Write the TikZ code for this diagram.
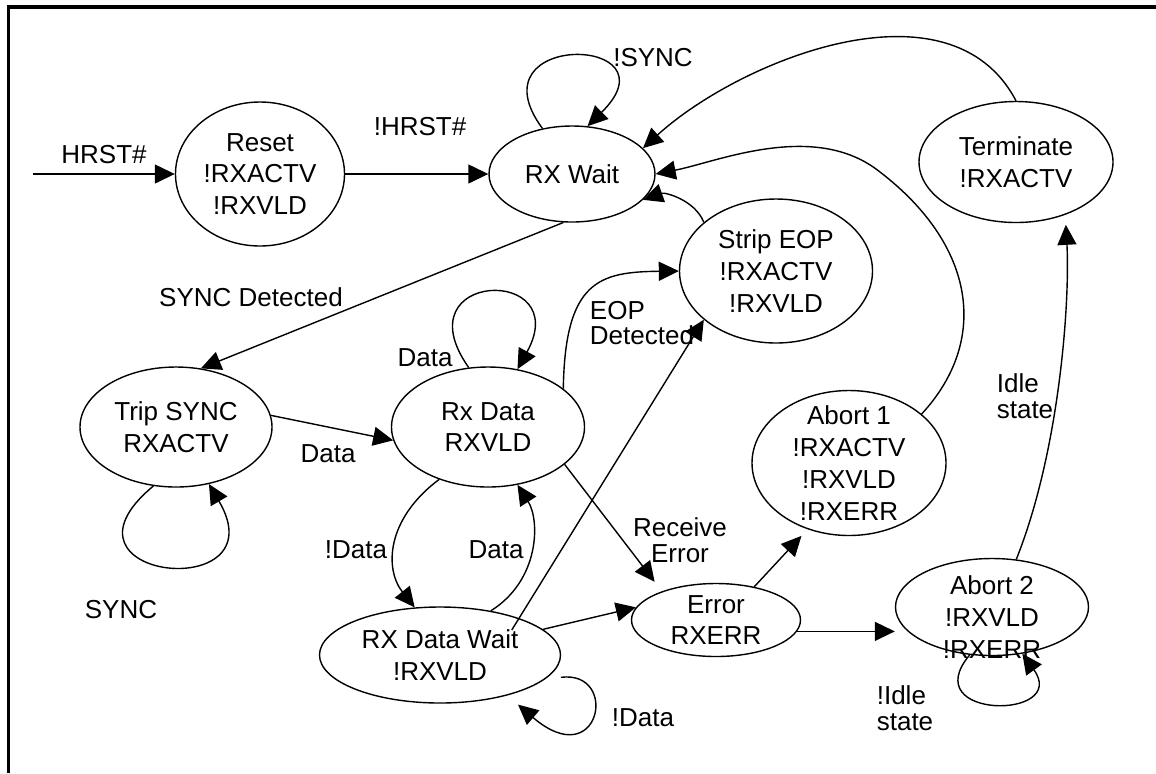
\documentclass[tikz,border=0pt]{standalone}
\usepackage{fontspec}
\setmainfont{Liberation Sans}
\usetikzlibrary{arrows.meta, shapes.geometric}

\begin{document}
\begin{tikzpicture}[x=0.5pt,y=-0.5pt,
		every node/.style={font=\fontsize{13pt}{15.9pt}\selectfont},
		state/.style={draw,ellipse,line width=0.7pt,align=center,inner xsep=0pt,inner ysep=-4pt},
		lbl/.style={align=left,inner sep=0pt,font=\fontsize{13pt}{12.75pt}\selectfont},
		tr/.style={line width=0.7pt,-{Triangle[length=10pt,width=9.5pt]}}]
	\useasboundingbox (0,0) rectangle (1156,773);
	\draw[line width=1.75pt] (8.5,773) -- (8.5,7) -- (1156,7);

	% states
	\node[state,minimum width=84.5pt,minimum height=72pt] (reset) at (260,174) {Reset\\!RXACTV\\!RXVLD};
	\node[state,minimum width=83pt,minimum height=48pt] (wait) at (572,174) {RX Wait};
	\node[state,minimum width=97pt,minimum height=60.5pt] (term) at (1016,162) {Terminate\\!RXACTV};
	\node[state,minimum width=96.5pt,minimum height=72pt] (strip) at (776,271) {Strip EOP\\!RXACTV\\!RXVLD};
	\node[state,minimum width=96pt,minimum height=60pt] (trip) at (176,427) {Trip SYNC\\RXACTV};
	\node[state,minimum width=96.5pt,minimum height=60pt] (rxdata) at (488,427) {Rx Data\\RXVLD};
	\node[state,minimum width=120.5pt,minimum height=48pt] (dwait) at (440,655) {RX Data Wait\\!RXVLD};
	\node[state,minimum width=84.5pt,minimum height=36.5pt] (err) at (716,620) {Error\\RXERR};
	\node[state,minimum width=97pt,minimum height=72.5pt] (ab1) at (849,463) {Abort 1\\!RXACTV\\!RXVLD\\!RXERR};
	\node[state,minimum width=96.5pt,minimum height=48.5pt,text height=51pt,inner ysep=-9pt] (ab2) at (992,607) {Abort 2\\!RXVLD\\!RXERR};

	% transitions
	\coordinate (in) at (33,174);
	\draw[tr] (in) -- (reset);
	\draw[tr] (reset) -- (wait);
	\draw[tr] (wait.123) .. controls (470,30) and (680,35) .. (wait.72);
	\draw[tr] (term.north) .. controls (950,-25) and (740,60) .. (wait.20);
	\draw[tr] (ab1.34) .. controls (990,340) and (975,245) .. (880,172) .. controls (815,120) and (717,162) .. (wait.east);
	\draw[tr] (strip.146) .. controls (695,200) and (665,192) .. (wait.-20);
	\draw[tr] (wait.-100) -- (trip.67);
	\draw[tr] (trip.7) -- (rxdata.188);
	\draw[tr] (trip.-111) .. controls (40,580) and (280,605) .. (trip.-60);
	\draw[tr] (rxdata.108) .. controls (400,270) and (575,265) .. (rxdata.63);
	\draw[tr] (rxdata.27) .. controls (565,280) and (600,272) .. (strip.west);
	\draw[tr,shorten >=6pt] (rxdata.-26) -- (err.152);
	\draw[tr] (rxdata.-133) .. controls (385,520) and (385,570) .. (dwait.118);
	\draw[tr] (dwait.41) .. controls (540,580) and (540,520) .. (rxdata.-63);
	\draw[tr,shorten <=-7pt] (dwait.25) -- (strip.-146);
	\draw[tr] (dwait.14) -- (err.171);
	\draw[tr,shorten <=8pt,shorten >=7pt] (dwait.-13) .. controls (620,670) and (600,775) .. (dwait.-31);
	\draw[tr,shorten >=4.5pt] (err.41) -- (ab1.-122);
	\draw[tr] (err.-8) -- (err.-8 -| ab2.west);
	\draw[tr,shorten >=5pt] (ab2.63) .. controls (1060,450) and (1070,300) .. (term.-47);
	\draw[tr] (ab2.-115) .. controls (915,720) and (1070,720) .. (ab2.-57);

	% labels
	\node[lbl] (lhrst) at (104,155) {HRST\#};
	\node[lbl] (lnhrst) at (420,127) {!HRST\#};
	\node[lbl] (lnsync) at (653,58) {!SYNC};
	\node[lbl] (lsyncdet) at (251,297) {SYNC Detected};
	\node[lbl] (ldata1) at (328,454) {Data};
	\node[lbl] (lsync) at (121,610) {SYNC};
	\node[lbl] (ldata2) at (425,358) {Data};
	\node[lbl] (leop) at (642,323) {EOP\\Detected};
	\node[lbl] (lndata1) at (356,550) {!Data};
	\node[lbl] (ldata3) at (496,550) {Data};
	\node[lbl,align=center] (lrxerr) at (680,540) {Receive\\Error};
	\node[lbl] (lndata2) at (643,718) {!Data};
	\node[lbl] (lidle) at (1025,396) {Idle\\state};
	\node[lbl] (lnidle) at (905,708) {!Idle\\state};
\end{tikzpicture}
\end{document}
